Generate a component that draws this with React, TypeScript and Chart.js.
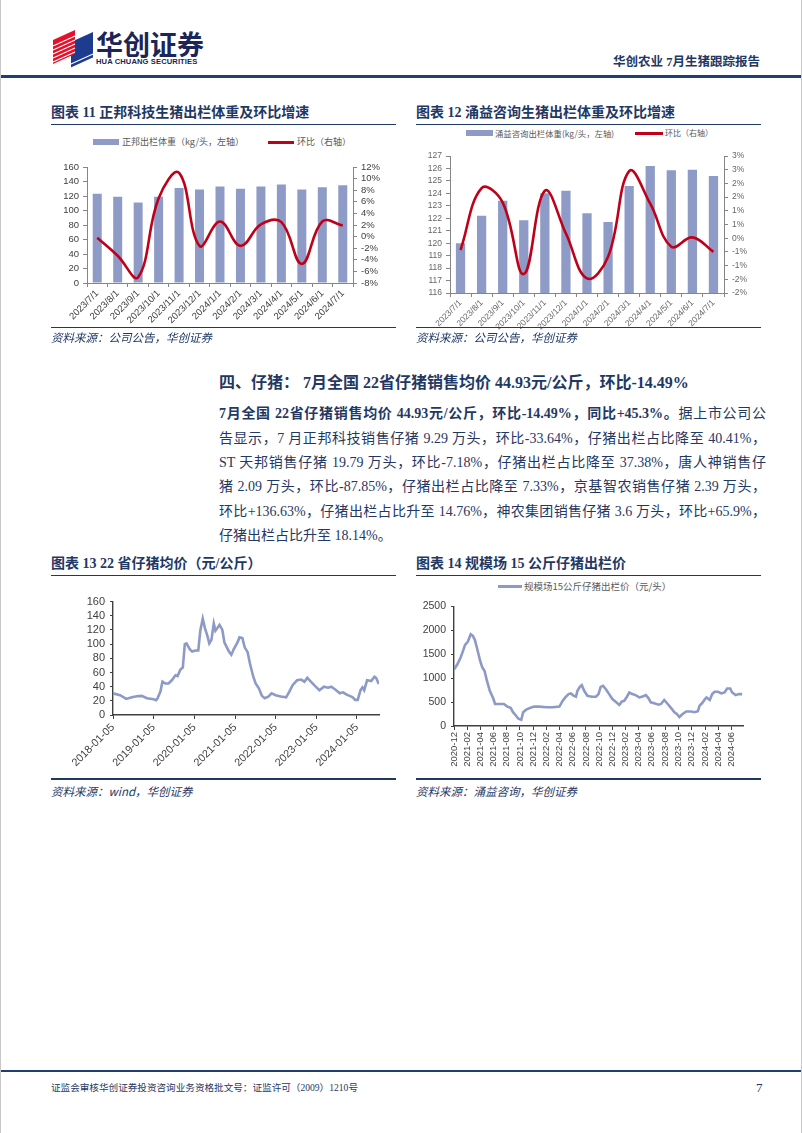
import React, { useEffect, useRef } from "react";
import { Chart, registerables } from "chart.js";

Chart.register(...registerables);

// ---------- Data ----------
const months = [
  "2023/7/1", "2023/8/1", "2023/9/1", "2023/10/1", "2023/11/1", "2023/12/1",
  "2024/1/1", "2024/2/1", "2024/3/1", "2024/4/1", "2024/5/1", "2024/6/1", "2024/7/1",
];
const weight11 = [123, 119, 111, 119, 131, 129, 133, 130, 133, 136, 129, 132, 135];
const growth11 = [-0.2, -3.3, -7.0, 6.6, 11.0, -1.6, 2.6, -1.6, 2.1, 2.5, -4.7, 2.6, 1.9];

const weight12 = [120.0, 122.2, 123.4, 121.85, 124.0, 124.2, 122.4, 121.7, 124.6, 126.2, 125.85, 125.9, 125.4];
const growth12 = [-0.43, 1.83, 1.3, -1.31, 1.73, 0.17, -1.47, -0.68, 2.45, 1.26, -0.31, 0.03, -0.5];

const dates13 = [
  "2018-01-05", "2018-03-10", "2018-05-04", "2018-06-24", "2018-08-07", "2018-09-20", "2018-11-06",
  "2019-01-05", "2019-01-27", "2019-02-09", "2019-03-07", "2019-03-25", "2019-04-20", "2019-05-19",
  "2019-06-17", "2019-07-20", "2019-08-08", "2019-09-02", "2019-09-24", "2019-10-12", "2019-10-27",
  "2019-11-25", "2019-12-17", "2020-01-15", "2020-02-10", "2020-02-28", "2020-03-21", "2020-04-09",
  "2020-05-01", "2020-05-19", "2020-06-07", "2020-06-28", "2020-07-13", "2020-08-01", "2020-08-19",
  "2020-09-13", "2020-10-02", "2020-11-10", "2020-12-03", "2020-12-25", "2021-01-27", "2021-02-14",
  "2021-03-12", "2021-04-02", "2021-04-28", "2021-05-20", "2021-06-18", "2021-07-09", "2021-08-07",
  "2021-09-02", "2021-09-28", "2021-10-31", "2021-11-29", "2022-01-05", "2022-02-21", "2022-04-09",
  "2022-05-08", "2022-06-06", "2022-07-16", "2022-08-22", "2022-09-20", "2022-10-16", "2022-11-17",
  "2022-12-24", "2023-02-02", "2023-03-14", "2023-04-20", "2023-05-19", "2023-06-24", "2023-08-04",
  "2023-09-02", "2023-10-01", "2023-10-30", "2023-11-28", "2023-12-20", "2024-01-12", "2024-02-06",
  "2024-02-24", "2024-03-10", "2024-04-05", "2024-05-12", "2024-06-10", "2024-06-25", "2024-07-19",
];
const price13 = [
  30.6, 28, 22.7, 25, 26.4, 27, 23.6,
  22.3, 21, 23.6, 33, 47, 44.5, 44.5,
  49, 56, 55, 64, 67, 100, 101,
  93, 89.5, 91, 91, 119, 136, 123,
  112, 101, 106, 129, 119, 123, 127,
  120, 102, 90, 85, 93, 102.5, 109.5,
  108.5, 95.5, 88.6, 72, 54, 44.5, 37.6,
  27.4, 23.6, 26, 30.6, 28, 26, 25,
  33, 42, 49, 50, 47, 52.4, 47,
  41, 35, 40, 38.5, 40, 36, 30.6,
  32, 29, 27, 25, 21.3, 21.3, 35,
  39, 35, 49, 47.8, 54, 52.4, 43.6,
];
const xTicks13 = [
  "2018-01-05", "2019-01-05", "2020-01-05", "2021-01-05", "2022-01-05", "2023-01-05", "2024-01-05",
];

const dates14 = [
  "2020-12-01", "2020-12-16", "2021-01-01", "2021-01-12", "2021-01-21", "2021-02-03", "2021-02-16",
  "2021-02-26", "2021-03-07", "2021-03-17", "2021-04-01", "2021-04-10", "2021-04-21", "2021-05-02",
  "2021-05-15", "2021-06-01", "2021-06-08", "2021-06-26", "2021-07-19", "2021-08-04", "2021-08-19",
  "2021-08-30", "2021-09-12", "2021-09-24", "2021-10-07", "2021-10-16", "2021-10-28", "2021-11-16",
  "2021-12-05", "2021-12-29", "2022-02-01", "2022-03-01", "2022-04-01", "2022-04-16", "2022-04-28",
  "2022-05-13", "2022-05-24", "2022-06-05", "2022-06-16", "2022-06-23", "2022-07-04", "2022-07-13",
  "2022-07-24", "2022-08-08", "2022-08-28", "2022-09-16", "2022-09-28", "2022-10-08", "2022-10-19",
  "2022-11-01", "2022-11-16", "2022-12-01", "2022-12-16", "2023-01-02", "2023-01-13", "2023-01-25",
  "2023-02-06", "2023-02-17", "2023-03-03", "2023-03-18", "2023-04-04", "2023-04-19", "2023-05-04",
  "2023-05-16", "2023-05-27", "2023-06-12", "2023-07-02", "2023-07-13", "2023-07-28", "2023-08-13",
  "2023-08-28", "2023-09-13", "2023-09-24", "2023-10-06", "2023-10-18", "2023-11-06", "2023-11-29",
  "2023-12-14", "2023-12-30", "2024-01-07", "2024-01-18", "2024-02-01", "2024-02-08", "2024-02-23",
  "2024-03-05", "2024-03-16", "2024-04-01", "2024-04-16", "2024-05-01", "2024-05-13", "2024-05-27",
  "2024-06-05", "2024-06-21", "2024-07-06", "2024-07-21",
];
const price14 = [
  1181, 1284, 1435, 1573, 1696, 1765, 1916,
  1882, 1800, 1628, 1353, 1229, 1147, 941,
  735, 563, 460, 460, 460, 405, 378,
  288, 220, 151, 130, 288, 336, 378,
  405, 405, 391, 391, 405, 529, 597,
  666, 680, 632, 611, 735, 817, 852,
  735, 632, 611, 611, 666, 817, 838,
  769, 666, 563, 508, 440, 508, 529,
  611, 700, 666, 645, 597, 618, 645,
  584, 494, 474, 446, 460, 543, 460,
  378, 288, 254, 185, 240, 302, 302,
  288, 309, 426, 474, 563, 597, 543,
  666, 714, 714, 680, 700, 783, 783,
  700, 645, 666, 666,
];
const xTicks14 = [
  "2020-12", "2021-02", "2021-04", "2021-06", "2021-08", "2021-10", "2021-12",
  "2022-02", "2022-04", "2022-06", "2022-08", "2022-10", "2022-12",
  "2023-02", "2023-04", "2023-06", "2023-08", "2023-10", "2023-12",
  "2024-02", "2024-04", "2024-06",
];

// ---------- Styles ----------
const NAVY = "#1f3864";
const BAR = "#8f9bc7";
const LINE_BLUE = "#8e9ac6";
const RED = "#c00018";
const SANS = '"Liberation Sans", Arial, sans-serif';
const SERIF = '"Liberation Serif", "Noto Sans CJK SC", serif';
const CJK = '"Noto Sans CJK SC", sans-serif';

function pctExcel(v: number) {
  const r = Math.sign(v) * Math.round(Math.abs(v) + 1e-9);
  return (r === 0 ? 0 : r) + "%";
}

function stepTicks(min: number, max: number, step: number) {
  return (s: any) => {
    const t: { value: number }[] = [];
    const n = Math.round((max - min) / step);
    for (let i = 0; i <= n; i++) t.push({ value: Math.round((min + i * step) * 1000) / 1000 });
    s.ticks = t;
  };
}

function ChartBox(props: { left: number; top: number; width: number; height: number; make: () => any }) {
  const ref = useRef<HTMLCanvasElement>(null);
  useEffect(() => {
    const chart = new Chart(ref.current as HTMLCanvasElement, props.make());
    return () => chart.destroy();
  }, []);
  return (
    <div style={{ position: "absolute", left: props.left, top: props.top, width: props.width, height: props.height }}>
      <canvas ref={ref} />
    </div>
  );
}

function comboConfig(opts: {
  weights: number[]; growth: number[]; barLabel: string;
  yMin: number; yMax: number; yStep: number;
  rMin: number; rMax: number; rStep: number; rFmt: (v: number) => string;
  padTop: number; leftW: number; rightW: number; xH: number;
  fontSize: number; tickColor: string;
}) {
  const axisColor = "#868686";
  const tickFont = { family: SANS, size: opts.fontSize };
  return {
    type: "bar",
    data: {
      labels: months,
      datasets: [
        {
          type: "line", label: "环比（右轴）", data: opts.growth, yAxisID: "y1",
          borderColor: RED, borderWidth: 2.6, pointRadius: 0, tension: 0.4, order: 0,
        },
        {
          type: "bar", label: opts.barLabel, data: opts.weights, yAxisID: "y",
          backgroundColor: BAR, barPercentage: 0.44, categoryPercentage: 1, order: 1,
        },
      ],
    },
    options: {
      animation: false, responsive: true, maintainAspectRatio: false,
      layout: { padding: { top: opts.padTop, left: 0, right: 0, bottom: 0 } },
      plugins: { legend: { display: false }, tooltip: { enabled: false } },
      scales: {
        x: {
          offset: true,
          grid: { display: true, drawOnChartArea: false, drawTicks: true, tickLength: 4, color: axisColor, offset: true },
          border: { color: axisColor, width: 1 },
          ticks: { autoSkip: false, maxRotation: 45, minRotation: 45, font: tickFont, color: opts.tickColor, padding: 1 },
          afterFit: (s: any) => { s.height = opts.xH; },
        },
        y: {
          position: "left", min: opts.yMin, max: opts.yMax,
          afterBuildTicks: stepTicks(opts.yMin, opts.yMax, opts.yStep),
          grid: { display: true, drawOnChartArea: false, drawTicks: true, tickLength: 4, color: axisColor },
          border: { color: axisColor, width: 1 },
          ticks: { autoSkip: false, font: tickFont, color: opts.tickColor, padding: 4, callback: (v: number) => String(v) },
          afterFit: (s: any) => { s.width = opts.leftW; },
        },
        y1: {
          position: "right", min: opts.rMin, max: opts.rMax,
          afterBuildTicks: stepTicks(opts.rMin, opts.rMax, opts.rStep),
          grid: { display: true, drawOnChartArea: false, drawTicks: true, tickLength: 4, color: axisColor },
          border: { color: axisColor, width: 1 },
          ticks: { autoSkip: false, font: tickFont, color: opts.tickColor, padding: 4, callback: (v: number) => opts.rFmt(v) },
          afterFit: (s: any) => { s.width = opts.rightW; },
        },
      },
    },
  };
}

const make11 = () =>
  comboConfig({
    weights: weight11, growth: growth11, barLabel: "正邦出栏体重（kg/头，左轴）",
    yMin: 0, yMax: 160, yStep: 20, rMin: -8, rMax: 12, rStep: 2, rFmt: (v) => v + "%",
    padTop: 17, leftW: 41, rightW: 43, xH: 47, fontSize: 9.5, tickColor: "#404040",
  });

const make12 = () =>
  comboConfig({
    weights: weight12, growth: growth12, barLabel: "涌益咨询出栏体重(kg/头，左轴)",
    yMin: 116, yMax: 127, yStep: 1, rMin: -2, rMax: 3, rStep: 0.5, rFmt: pctExcel,
    padTop: 16, leftW: 39, rightW: 67, xH: 37, fontSize: 8.5, tickColor: "#666666",
  });

function lineDateConfig(opts: {
  dates: string[]; values: number[]; label: string; ticks: string[]; tickSuffix: string;
  xMax: string; yMax: number; yStep: number;
  padTop: number; padRight: number; leftW: number; xH: number;
  rotation: number; fontSize: number; xFontSize: number;
}) {
  const axisColor = "#404040";
  return {
    type: "line",
    data: {
      datasets: [
        {
          label: opts.label,
          data: opts.dates.map((d, i) => ({ x: Date.parse(d), y: opts.values[i] })),
          borderColor: LINE_BLUE, borderWidth: 2.6, pointRadius: 0, tension: 0, fill: false,
        },
      ],
    },
    options: {
      animation: false, responsive: true, maintainAspectRatio: false,
      layout: { padding: { top: opts.padTop, right: opts.padRight, left: 0, bottom: 0 } },
      plugins: { legend: { display: false }, tooltip: { enabled: false } },
      scales: {
        x: {
          type: "linear",
          min: Date.parse(opts.ticks[0] + opts.tickSuffix),
          max: Date.parse(opts.xMax),
          afterBuildTicks: (s: any) => {
            s.ticks = opts.ticks.map((t) => ({ value: Date.parse(t + opts.tickSuffix) }));
          },
          grid: { display: true, drawOnChartArea: false, drawTicks: true, tickLength: 4, color: axisColor },
          border: { color: axisColor, width: 1.4 },
          ticks: {
            autoSkip: false, maxRotation: opts.rotation, minRotation: opts.rotation,
            font: { family: SANS, size: opts.xFontSize }, color: "#404040", padding: 2,
            callback: (_v: number, i: number) => opts.ticks[i] ?? "",
          },
          afterFit: (s: any) => { s.height = opts.xH; },
        },
        y: {
          min: 0, max: opts.yMax,
          afterBuildTicks: stepTicks(0, opts.yMax, opts.yStep),
          grid: { display: true, drawOnChartArea: false, drawTicks: true, tickLength: 3, color: axisColor },
          border: { color: axisColor, width: 1.4 },
          ticks: { autoSkip: false, font: { family: SANS, size: opts.fontSize }, color: "#404040", padding: 5, callback: (v: number) => String(v) },
          afterFit: (s: any) => { s.width = opts.leftW; },
        },
      },
    },
  };
}

const make13 = () =>
  lineDateConfig({
    dates: dates13, values: price13, label: "22省仔猪均价", ticks: xTicks13, tickSuffix: "",
    xMax: "2024-07-21", yMax: 160, yStep: 20,
    padTop: 10, padRight: 17, leftW: 67, xH: 56, rotation: 45, fontSize: 11, xFontSize: 10.8,
  });

const make14 = () =>
  lineDateConfig({
    dates: dates14, values: price14, label: "规模场15公斤仔猪出栏价（元/头）", ticks: xTicks14, tickSuffix: "-01",
    xMax: "2024-07-25", yMax: 2500, yStep: 500,
    padTop: 9, padRight: 13, leftW: 48, xH: 46, rotation: 90, fontSize: 10.5, xFontSize: 9.5,
  });

// ---------- Layout helpers ----------
function Txt(props: { x: number; y: number; size: number; children: any; bold?: boolean; italic?: boolean; color?: string; family?: string; w?: number; justify?: boolean }) {
  return (
    <div
      style={{
        position: "absolute", left: props.x, top: props.y - props.size * 0.75, whiteSpace: "nowrap",
        fontSize: props.size, lineHeight: props.size * 1.5 + "px", fontWeight: props.bold ? 700 : 400,
        fontStyle: props.italic ? "italic" : "normal", color: props.color || NAVY,
        fontFamily: props.family || SERIF, width: props.w,
        textAlign: props.justify ? ("justify" as any) : "left",
        textAlignLast: props.justify ? ("justify" as any) : "auto",
      }}
    >
      {props.children}
    </div>
  );
}

function HLine(props: { x: number; y: number; w: number; h?: number; color?: string }) {
  return <div style={{ position: "absolute", left: props.x, top: props.y, width: props.w, height: props.h || 1, background: props.color || NAVY }} />;
}

function BarSwatch(props: { x: number; y: number; w: number }) {
  return <div style={{ position: "absolute", left: props.x, top: props.y - 3, width: props.w, height: 6, background: BAR }} />;
}
function LineSwatch(props: { x: number; y: number; w: number; color: string }) {
  return <div style={{ position: "absolute", left: props.x, top: props.y - 1.5, width: props.w, height: 3, background: props.color }} />;
}

function Logo() {
  return (
    <svg style={{ position: "absolute", left: 50, top: 28 }} width={44} height={42} viewBox="0 0 44 42">
      <polygon points="20,14 42,4 42,30 20,40" fill="#1d3b8f" />
      <polygon points="2,12 24,2 24,26 2,36" fill="#e5102a" />
      {[6, 10, 14, 18, 22].map((d) => (
        <line key={"r" + d} x1={2} y1={12 + d} x2={24} y2={2 + d} stroke="#ffffff" strokeWidth={1.1} />
      ))}
      {[30, 34].map((d) => (
        <line key={"b" + d} x1={20} y1={14 + d - 8} x2={42} y2={4 + d - 8} stroke="#ffffff" strokeWidth={1.1} />
      ))}
    </svg>
  );
}

const paraLines = [
  "告显示，7 月正邦科技销售仔猪 9.29 万头，环比-33.64%，仔猪出栏占比降至 40.41%，",
  "ST 天邦销售仔猪 19.79 万头，环比-7.18%，仔猪出栏占比降至 37.38%，唐人神销售仔",
  "猪 2.09 万头，环比-87.85%，仔猪出栏占比降至 7.33%，京基智农销售仔猪 2.39 万头，",
  "环比+136.63%，仔猪出栏占比升至 14.76%，神农集团销售仔猪 3.6 万头，环比+65.9%，",
];

export default function App() {
  return (
    <div
      style={{
        position: "absolute", left: 0, top: 0, width: 802, height: 1133, background: "#ffffff",
        overflow: "hidden", boxSizing: "border-box", borderLeft: "1px solid #c8c8c8", borderRight: "1px solid #c8c8c8",
      }}
    >
      {/* Header */}
      <Logo />
      <Txt x={95} y={44} size={27} bold family={CJK} color="#1c2557">华创证券</Txt>
      <div style={{ position: "absolute", left: 95, top: 57, fontFamily: SANS, fontWeight: 700, fontSize: 7.6, color: "#1c2557", letterSpacing: 0.1, whiteSpace: "nowrap" }}>
        HUA CHUANG SECURITIES
      </div>
      <Txt x={612} y={62} size={12.5} bold>华创农业 7月生猪跟踪报告</Txt>
      <HLine x={0} y={75} w={802} h={2.5} color="#1f3f73" />

      {/* Chart 11 */}
      <Txt x={50} y={112} size={14} bold>图表 11 正邦科技生猪出栏体重及环比增速</Txt>
      <HLine x={50} y={124} w={345} />
      <BarSwatch x={92} y={142} w={26} />
      <Txt x={121} y={142} size={9} family={CJK} color="#595959">正邦出栏体重（kg/头，左轴）</Txt>
      <LineSwatch x={267} y={142} w={26} color={RED} />
      <Txt x={296} y={142} size={9} family={CJK} color="#595959">环比（右轴）</Txt>
      <ChartBox left={45} top={150} width={350} height={180} make={make11} />
      <HLine x={50} y={327} w={345} />
      <Txt x={50} y={338} size={11.5} italic family={CJK}>资料来源：公司公告，华创证券</Txt>

      {/* Chart 12 */}
      <Txt x={415} y={112} size={14} bold>图表 12 涌益咨询生猪出栏体重及环比增速</Txt>
      <HLine x={415} y={124} w={345} />
      <BarSwatch x={465} y={133} w={27} />
      <Txt x={494} y={133} size={8.4} family={CJK} color="#595959">涌益咨询出栏体重(kg/头，左轴)</Txt>
      <LineSwatch x={634} y={133} w={28} color={RED} />
      <Txt x={664} y={133} size={8} family={CJK} color="#595959">环比（右轴）</Txt>
      <ChartBox left={410} top={140} width={380} height={190} make={make12} />
      <HLine x={415} y={327} w={345} />
      <Txt x={415} y={338} size={11.5} italic family={CJK}>资料来源：公司公告，华创证券</Txt>

      {/* Section text */}
      <Txt x={218} y={383} size={16} bold>四、仔猪： 7月全国 22省仔猪销售均价 44.93元/公斤，环比-14.49%</Txt>
      <Txt x={218} y={413} size={14} w={547} justify>
        <b>7月全国 22省仔猪销售均价 44.93元/公斤，环比-14.49%，同比+45.3%。</b>据上市公司公
      </Txt>
      {paraLines.map((l, i) => (
        <Txt key={i} x={218} y={438 + i * 24.4} size={14} w={547} justify>{l}</Txt>
      ))}
      <Txt x={218} y={535} size={14}>仔猪出栏占比升至 18.14%。</Txt>

      {/* Chart 13 */}
      <Txt x={50} y={563} size={14} bold>图表 13 22 省仔猪均价（元/公斤）</Txt>
      <HLine x={50} y={575} w={345} />
      <ChartBox left={45} top={590} width={350} height={181} make={make13} />
      <HLine x={50} y={778} w={345} h={1.5} />
      <Txt x={50} y={792} size={11.5} italic family={CJK}>资料来源：wind，华创证券</Txt>

      {/* Chart 14 */}
      <Txt x={415} y={563} size={14} bold>图表 14 规模场 15 公斤仔猪出栏价</Txt>
      <HLine x={415} y={575} w={345} />
      <LineSwatch x={497} y={586} w={24} color={LINE_BLUE} />
      <Txt x={523} y={586} size={9.5} family={CJK} color="#595959">规模场15公斤仔猪出栏价（元/头）</Txt>
      <ChartBox left={405} top={595} width={350} height={177} make={make14} />
      <HLine x={415} y={778} w={345} h={1.5} />
      <Txt x={415} y={792} size={11.5} italic family={CJK}>资料来源：涌益咨询，华创证券</Txt>

      {/* Footer */}
      <HLine x={0} y={1070} w={802} h={2} color="#1f3f73" />
      <Txt x={50} y={1088} size={9.6} family={SERIF}>证监会审核华创证券投资咨询业务资格批文号：证监许可（2009）1210号</Txt>
      <Txt x={755} y={1088} size={13} family={SERIF}>7</Txt>
    </div>
  );
}
